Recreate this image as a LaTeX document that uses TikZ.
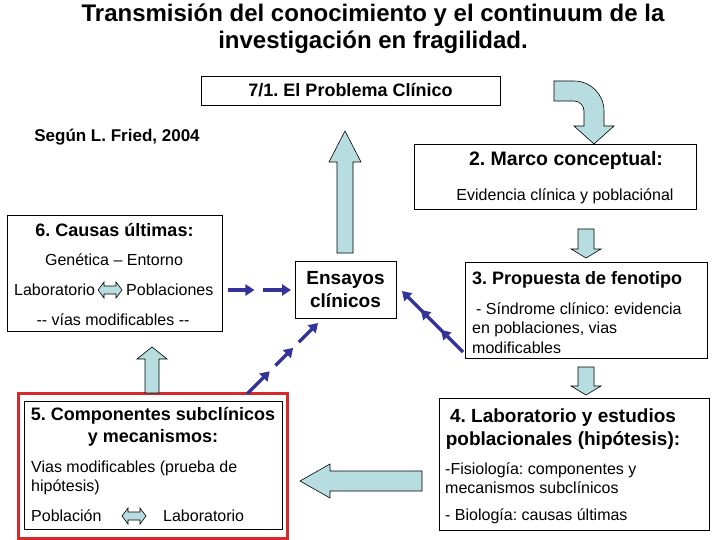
\documentclass[tikz,border=0pt]{standalone}
\usepackage{fontspec}
\setmainfont{Liberation Sans}
\usetikzlibrary{arrows.meta, calc, decorations.markings}
\definecolor{celeste}{HTML}{B7DDE0}
\definecolor{marino}{HTML}{333399}
\definecolor{rojo}{HTML}{D42A2A}
\frenchspacing

\begin{document}
\begin{tikzpicture}[x=1pt, y=-1pt,
  box/.style={draw, line width=0.8pt, inner sep=0pt},
  txt/.style={inner sep=0pt, align=left, font=\fontsize{16}{19.5}\selectfont},
  bold/.style={inner sep=0pt, align=center, font=\fontsize{#1}{\dimexpr#1pt*120/100\relax}\selectfont\bfseries},
  bold/.default=18,
  blk/.style={draw, fill=celeste, line width=0.6pt, line join=miter},
  dsh/.style={marino, line width=3.5pt, -{Triangle[length=9pt, width=11pt]}},
  tri/.style={marino, line width=3.5pt, -{Triangle[length=9pt, width=11pt]},
    postaction={decorate, decoration={markings,
      mark=at position 0.36 with {\arrow{Triangle[length=9pt, width=11pt]}},
      mark=at position 0.69 with {\arrow{Triangle[length=9pt, width=11pt]}}}}},
]
\fill[white] (0,0) rectangle (720,540);

% Title
\node[bold, font=\fontsize{24}{27}\selectfont\bfseries] (titulo) at (373,29) {Transmisión del conocimiento y el continuum de la\\investigación en fragilidad.};
\node[bold=17] (fried) at (117,137) {Según L. Fried, 2004};

% 7/1 and 2
\node[box, minimum width=299pt, minimum height=29pt, bold=18] (problema) at (350.5,90.5) {7/1. El Problema Clínico};
\node[box, minimum width=282pt, minimum height=65pt] (marco) at (555,177) {};
\node[bold=19.5] (marcoT) at (566,160) {2. Marco conceptual:};
\node[txt] (marcoB) at (565,196) {Evidencia clínica y poblaciónal};

% Ensayos
\node[box, minimum width=101pt, minimum height=57pt, bold=19] (ensayos) at (345.5,289.5) {Ensayos\\clínicos};

% 6. Causas
\node[box, minimum width=215pt, minimum height=116pt] (causas) at (114.5,273) {};
\node[bold] (causasT) at (114.5,230) {6. Causas últimas:};
\node[txt] (genetica) at (114,260) {Genética – Entorno};
\node[txt, anchor=west] (lab6) at (14,290) {Laboratorio};
\node[txt, anchor=west] (pob6) at (126,290) {Poblaciones};
\node[txt] (vias6) at (113,320) {-{}- vías modificables -{}-};

% 3. Fenotipo
\node[box, minimum width=242pt, minimum height=96pt] (fenotipo) at (586,310) {};
\node[bold, anchor=west] (fenotipoT) at (472,280) {3. Propuesta de fenotipo};
\node[txt, anchor=west] (fenotipoB) at (472,328) {\hspace{4pt}- Síndrome clínico: evidencia\\en poblaciones, vias\\modificables};

% 4. Laboratorio
\node[box, minimum width=270pt, minimum height=132pt] (labo) at (574,464) {};
\node[bold=19] (laboT) at (563,429) {4. Laboratorio y estudios\\poblacionales (hipótesis):};
\node[txt, anchor=west] (laboB1) at (445,478) {-Fisiología: componentes y\\mecanismos subclínicos};
\node[txt, anchor=west] (laboB2) at (445,516) {- Biología: causas últimas};

% 5. Componentes
\node[draw=rojo, line width=3pt, minimum width=269pt, minimum height=145pt] (rojo5) at (153,466) {};
\node[box, minimum width=258pt, minimum height=128pt] (comp) at (153.5,465) {};
\node[bold] (compT) at (153,427) {5. Componentes subclínicos\\y mecanismos:};
\node[txt, anchor=west] (compB) at (31,478) {Vias modificables (prueba de\\hipótesis)};
\node[txt, anchor=west] (pob5) at (31,516) {Población};
\node[txt, anchor=west] (lab5) at (163,516) {Laboratorio};

% Block arrows
\coordinate (curva) at (554,81);
\draw[blk] (curva) -- (574,81) .. controls (590.6,81) and (604,94.4) .. (604,111) -- (604,126) -- (614,126)
  -- (594,144) -- (574,126) -- (584,126) -- (584,111) .. controls (584,105.5) and (579.5,101) .. (574,101) -- (554,101) -- cycle;
\coordinate (subeTip) at (345,131);
\draw[blk] (subeTip) -- ++(16,31) -- ++(-8,0) -- ++(0,91) -- ++(-16,0) -- ++(0,-91) -- ++(-8,0) -- cycle;
\coordinate (sube5Tip) at (152,347);
\draw[blk] (sube5Tip) -- ++(15,12) -- ++(-8,0) -- ++(0,34) -- ++(-14,0) -- ++(0,-34) -- ++(-8,0) -- cycle;
\coordinate (baja2Tip) at (586,258);
\draw[blk] (baja2Tip) -- ++(15,-9) -- ++(-7,0) -- ++(0,-20) -- ++(-16,0) -- ++(0,20) -- ++(-7,0) -- cycle;
\coordinate (baja3Tip) at (586,395);
\draw[blk] (baja3Tip) -- ++(15,-9) -- ++(-7,0) -- ++(0,-19) -- ++(-16,0) -- ++(0,19) -- ++(-7,0) -- cycle;
\coordinate (izqTip) at (300,481);
\draw[blk] (izqTip) -- ++(30,-17) -- ++(0,7) -- ++(92,0) -- ++(0,20) -- ++(-92,0) -- ++(0,7) -- cycle;

% Double arrows in boxes
\coordinate (doble6) at (110,290);
\draw[blk] (doble6) ++(-12,0) -- ++(6,-8) -- ++(0,4) -- ++(12,0) -- ++(0,-4) -- ++(6,8) -- ++(-6,8) -- ++(0,-4) -- ++(-12,0) -- ++(0,4) -- cycle;
\coordinate (doble5) at (134,516);
\draw[blk] (doble5) ++(-12,0) -- ++(6,-8) -- ++(0,4) -- ++(12,0) -- ++(0,-4) -- ++(6,8) -- ++(-6,8) -- ++(0,-4) -- ++(-12,0) -- ++(0,4) -- cycle;

% Navy arrows
\coordinate (d6a) at (228,290);
\coordinate (d6b) at (291,290);
\draw[dsh] (d6a) -- ($(d6a)!0.42!(d6b)$);
\draw[dsh] ($(d6a)!0.56!(d6b)$) -- (d6b);
\coordinate (d5a) at (247,394);
\coordinate (d5b) at (318,323);
\draw[dsh] (d5a) -- ($(d5a)!0.32!(d5b)$);
\draw[dsh] ($(d5a)!0.40!(d5b)$) -- ($(d5a)!0.65!(d5b)$);
\draw[dsh] ($(d5a)!0.73!(d5b)$) -- (d5b);
\coordinate (d3a) at (463,352);
\coordinate (d3b) at (402,291);
\draw[tri] (d3a) -- (d3b);

\end{tikzpicture}
\end{document}
